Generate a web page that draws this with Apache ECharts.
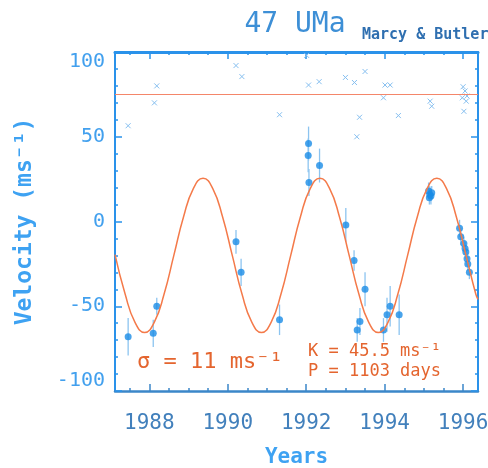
<!DOCTYPE html>
<html><head><meta charset="utf-8">
<script src="https://cdn.jsdelivr.net/npm/echarts@6/dist/echarts.min.js"></script>
<style>html,body{margin:0;padding:0;background:#fff}#c{width:488px;height:468px}</style>
</head><body><div id="c"></div>
<script>
// Fitted orbit curve (year, m/s)
const curveYears = [1987.125,1987.383,1987.632,1987.880,1988.128,1988.377,1988.625,1988.873,1989.122,1989.370,1989.618,1989.867,1990.115,1990.363,1990.612,1990.860,1991.108,1991.357,1991.605,1991.853,1992.102,1992.350,1992.598,1992.847,1993.095,1993.343,1993.592,1993.840,1994.088,1994.337,1994.585,1994.833,1995.082,1995.330,1995.578,1995.827,1996.075,1996.323,1996.380];
const curveVel   = [-19.5,-42.8,-59.4,-65.5,-59.4,-42.8,-20,2.8,19.4,25.5,19.4,2.8,-20,-42.8,-59.4,-65.5,-59.4,-42.8,-20,2.8,19.4,25.5,19.4,2.8,-20,-42.8,-59.4,-65.5,-59.4,-42.8,-20,2.8,19.4,25.5,19.4,2.8,-20,-42.8,-46];
// Observations with error bars
const obsYears = [1987.46,1988.10,1988.19,1990.21,1990.34,1991.32,1992.06,1992.05,1992.07,1992.34,1993.01,1993.22,1993.50,1993.37,1993.30,1993.97,1994.06,1994.14,1994.37,1995.12,1995.15,1995.18,1995.20,1995.14,1995.91,1995.94,1996.02,1996.05,1996.07,1996.10,1996.12,1996.16];
const obsVel   = [-68,-66,-50,-12,-30,-58,46,39,23,33,-2,-23,-40,-59,-64,-64,-55,-50,-55,18,16,15,17,14,-4,-9,-13,-16,-18,-22,-25,-30];
const obsErr   = [11,8,5,7,8,9,10,10,8,10,10,6,10,8,7,7,10,12,12,5,5,5,4,4,5,5,4,4,4,4,4,4];
// Faint cross marks
const crossYears = [1987.46,1988.19,1988.13,1990.21,1990.36,1991.32,1992.01,1992.06,1992.33,1993.00,1993.23,1993.50,1993.36,1993.29,1994.01,1994.14,1993.97,1994.35,1995.16,1995.20,1996.00,1996.05,1996.10,1995.98,1996.08,1996.02];
const crossVel   = [56.5,80,70,92,85.5,63,98,80.5,82.5,85,82,88.5,61.5,50,80.5,80.5,73,62.5,71,68,79.5,77,74,73,71,65];
const refLevel = 75;
const xRange = [1987.125, 1996.38];
const yRange = [-100, 100];
const xMajorTicks = [1988,1990,1992,1994,1996];
const xMinorTicks = [1987.5,1988,1988.5,1989,1989.5,1990,1990.5,1991,1991.5,1992,1992.5,1993,1993.5,1994,1994.5,1995,1995.5,1996];

const MONO = 'DejaVu Sans Mono';
const frameBlue = '#2a92ea';
const bottomBlue = '#3b87c9';

function xAxisDef(pos, major, color, width) {
  return {
    type:'value', position:pos, min:xRange[0], max:xRange[1],
    axisLine:{show:major, onZero:false, lineStyle:{color:color, width:width}},
    axisTick:{show:true, inside:true, length: major?7:3, customValues: major?xMajorTicks:xMinorTicks, lineStyle:{color:color, width:1.5}},
    axisLabel:{show:false},
    splitLine:{show:false}
  };
}
const xBottom = xAxisDef('bottom', true, bottomBlue, 2.5);
xBottom.axisLabel = {show:true, customValues:xMajorTicks, margin:22, fontFamily:MONO, fontSize:21, color:'#4280bc', formatter:(v)=>String(Math.round(v))};
xBottom.name = 'Years';
xBottom.nameLocation = 'middle';
xBottom.nameGap = 56;
xBottom.nameTextStyle = {fontFamily:MONO, fontWeight:'bold', fontSize:21, color:'#3ea2f2'};

function yAxisDef(pos, withLabels) {
  const a = {
    type:'value', position:pos, min:yRange[0], max:yRange[1], interval:50,
    axisLine:{show:true, onZero:false, lineStyle:{color:frameBlue, width:2}},
    axisTick:{show:true, inside:true, length:7, lineStyle:{color:frameBlue, width:1.5}},
    minorTick:{show:true, splitNumber:5, length:3, lineStyle:{color:frameBlue, width:1.5}},
    axisLabel:{show:withLabels, margin:10, fontFamily:MONO, fontSize:20, color:'#42a0ee',
      verticalAlignMaxLabel:'top', verticalAlignMinLabel:'bottom'},
    splitLine:{show:false}, minorSplitLine:{show:false}
  };
  if (withLabels) {
    a.name = 'Velocity (ms⁻¹)';
    a.nameLocation = 'middle';
    a.nameRotate = 90;
    a.nameGap = 78;
    a.nameTextStyle = {fontFamily:MONO, fontWeight:'bold', fontSize:23, color:'#3ea2f2'};
  }
  return a;
}

const chart = echarts.init(document.getElementById('c'), null, {renderer:'canvas'});
chart.setOption({
  animation:false,
  backgroundColor:'#fff',
  grid:{left:115, right:10, top:52, bottom:77, containLabel:false, outerBoundsMode:'none'},
  xAxis:[xBottom, xAxisDef('bottom', false, bottomBlue, 2.5), xAxisDef('top', true, frameBlue, 3), xAxisDef('top', false, frameBlue, 3)],
  yAxis:[yAxisDef('left', true), yAxisDef('right', false)],
  graphic:[
    {type:'text', x:295, y:25, style:{text:'47 UMa', font:'28px "DejaVu Sans Mono"', fill:'#3d8fd6', textAlign:'center', textVerticalAlign:'middle'}},
    {type:'text', x:362, y:35, style:{text:'Marcy & Butler', font:'bold 15px "DejaVu Sans Mono"', fill:'#2f6fb0', textAlign:'left', textVerticalAlign:'middle'}},
    {type:'text', x:137, y:362, z:10, style:{text:'σ = 11 ms⁻¹', font:'22px "DejaVu Sans Mono"', fill:'#e4652f', textAlign:'left', textVerticalAlign:'middle'}},
    {type:'text', x:308, y:352, z:10, style:{text:'K = 45.5 ms⁻¹', font:'17px "DejaVu Sans Mono"', fill:'#e4652f', textAlign:'left', textVerticalAlign:'middle'}},
    {type:'text', x:308, y:372, z:10, style:{text:'P = 1103 days', font:'17px "DejaVu Sans Mono"', fill:'#e4652f', textAlign:'left', textVerticalAlign:'middle'}}
  ],
  series:[
    {
      type:'line', xAxisIndex:0, yAxisIndex:0, smooth:true, showSymbol:false, silent:true,
      data: curveYears.map((x,i)=>[x, curveVel[i]]),
      lineStyle:{color:'#f47a4a', width:1.5},
      markLine:{silent:true, symbol:'none', label:{show:false}, lineStyle:{color:'#f4866a', width:1, type:'solid'}, data:[{yAxis:refLevel}]}
    },
    {
      type:'custom', xAxisIndex:0, yAxisIndex:0, silent:true,
      data: crossYears.map((x,i)=>[x, crossVel[i]]),
      encode:{x:0, y:1},
      renderItem:(params, api)=>{
        const p = api.coord([api.value(0), api.value(1)]);
        const s = 2.5;
        return {type:'group', children:[
          {type:'line', shape:{x1:p[0]-s,y1:p[1]-s,x2:p[0]+s,y2:p[1]+s}, style:{stroke:'#86bff0', lineWidth:1}},
          {type:'line', shape:{x1:p[0]-s,y1:p[1]+s,x2:p[0]+s,y2:p[1]-s}, style:{stroke:'#86bff0', lineWidth:1}}
        ]};
      }
    },
    {
      type:'custom', xAxisIndex:0, yAxisIndex:0, silent:true,
      data: obsYears.map((x,i)=>[x, obsVel[i], obsErr[i]]),
      encode:{x:0, y:1},
      renderItem:(params, api)=>{
        const x = api.value(0), y = api.value(1), e = api.value(2);
        const a = api.coord([x, y-e]), b = api.coord([x, y+e]);
        return {type:'line', shape:{x1:a[0],y1:a[1],x2:b[0],y2:b[1]}, style:{stroke:'#8cc4f0', lineWidth:1.3}};
      }
    },
    {
      type:'scatter', xAxisIndex:0, yAxisIndex:0, silent:true,
      data: obsYears.map((x,i)=>[x, obsVel[i]]),
      symbol:'circle', symbolSize:7,
      itemStyle:{color:'#1a8ce6'}
    }
  ]
});
</script>
</body></html>
